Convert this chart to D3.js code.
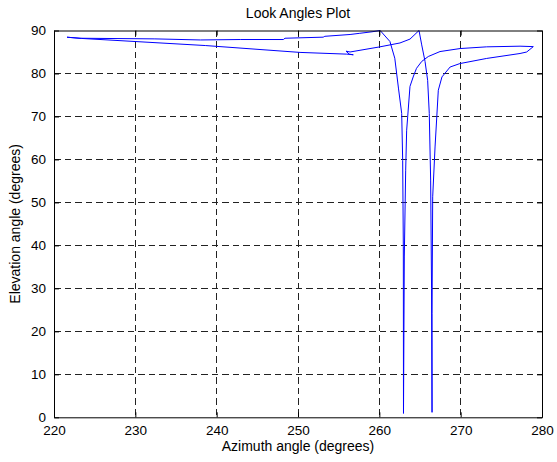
<!DOCTYPE html>
<html><head><meta charset="utf-8">
<script src="https://cdn.jsdelivr.net/npm/d3@7"></script>
<style>
body{margin:0;background:#fff}
svg{display:block}
text{font-family:"Liberation Sans",Arial,Helvetica,sans-serif;fill:#000}
</style>
</head><body>
<svg id="chart" width="557" height="462"></svg>
<script>
// Look angles track (azimuth, elevation) in degrees
const azimuth = [
  221.6, 223.2, 232.4, 238.0, 242.9, 248.2, 248.4, 253.1, 253.3, 256.4, 257.6, 259.1, 260.1,
  261.3, 261.9, 262.35, 262.75, 262.87, 262.95, 262.97,
  263.07, 263.24, 263.36, 263.77, 264.2, 264.57, 265.21, 266.02, 267.46, 269.92, 273.2, 277.3, 278.93,
  278.12, 277.3, 273.2, 269.9, 268.7, 267.7, 267.25, 266.85, 266.56, 266.48, 266.48,
  266.42, 266.31, 266.14, 265.94, 265.62, 265.21, 264.88,
  263.77, 262.54, 260.08, 256.4, 255.9, 256.3, 256.8,
  256.0, 250.25, 238.6, 223.4, 221.6
];
const elevation = [
  88.44, 88.2, 88.05, 87.8, 87.9, 87.9, 88.2, 88.45, 88.65, 89.07, 89.35, 89.7, 90.0,
  87.45, 83.55, 76.6, 70.7, 59.8, 39.7, 0.9,
  37.3, 57.5, 66.8, 77.0, 79.4, 81.2, 82.8, 83.95, 85.1, 85.8, 86.2, 86.35, 86.25,
  85.0, 84.65, 83.5, 82.3, 81.5, 79.2, 76.1, 62.9, 51.3, 24.2, 1.15,
  30.0, 55.2, 70.7, 78.4, 82.8, 86.65, 90.0,
  88.0, 87.1, 86.2, 85.0, 85.2, 84.5, 84.35,
  84.5, 84.9, 86.5, 88.15, 88.44
];
const xTicks = [220, 230, 240, 250, 260, 270, 280];
const yTicks = [0, 10, 20, 30, 40, 50, 60, 70, 80, 90];
const titleText = "Look Angles Plot";
const xLabel = "Azimuth angle (degrees)";
const yLabel = "Elevation angle (degrees)";

const svg = d3.select("#chart");
const L = 54, R = 542, T = 30.5, B = 417.3;
const x = d3.scaleLinear().domain([220, 280]).range([L, R]);
const y = d3.scaleLinear().domain([0, 90]).range([B, T]);

// grid
const g = svg.append("g");
g.selectAll("line.vg").data(xTicks.slice(1, -1)).join("line")
  .attr("x1", d => x(d)).attr("x2", d => x(d)).attr("y1", T).attr("y2", B)
  .attr("stroke", "#222").attr("stroke-width", 1).attr("stroke-dasharray", "6.5,4")
  .attr("shape-rendering", "crispEdges");
g.selectAll("line.hg").data(yTicks.slice(1, -1)).join("line")
  .attr("y1", d => y(d)).attr("y2", d => y(d)).attr("x1", L).attr("x2", R)
  .attr("stroke", "#222").attr("stroke-width", 1).attr("stroke-dasharray", "6.5,4")
  .attr("shape-rendering", "crispEdges");

// data line
const line = d3.line().x((d, i) => x(azimuth[i])).y((d, i) => y(elevation[i]));
svg.append("path").datum(azimuth).attr("d", line)
  .attr("fill", "none").attr("stroke", "#0000ff").attr("stroke-width", 1)
  .attr("stroke-linejoin", "round");

// axes with inward ticks
const tl = 5;
const axB = svg.append("g").attr("transform", `translate(0,${B})`)
  .call(d3.axisBottom(x).tickValues(xTicks).tickSizeInner(-tl).tickSizeOuter(0).tickPadding(8));
const axT = svg.append("g").attr("transform", `translate(0,${T})`)
  .call(d3.axisTop(x).tickValues(xTicks).tickSizeInner(-tl).tickSizeOuter(0).tickFormat(""));
const axL = svg.append("g").attr("transform", `translate(${L},0)`)
  .call(d3.axisLeft(y).tickValues(yTicks).tickSizeInner(-tl).tickSizeOuter(0).tickPadding(8));
const axR = svg.append("g").attr("transform", `translate(${R},0)`)
  .call(d3.axisRight(y).tickValues(yTicks).tickSizeInner(-tl).tickSizeOuter(0).tickFormat(""));
[axB, axT, axL, axR].forEach(a => {
  a.selectAll(".domain").attr("stroke", "#000").attr("stroke-width", 1);
  a.selectAll(".tick line").attr("stroke", "#000");
  a.selectAll("text").attr("font-size", 13.5).attr("font-family", "Liberation Sans, Arial, sans-serif").attr("fill", "#000");
});
axB.selectAll("text").attr("dy", "0.71em");

// title and labels
svg.append("text").attr("x", (L + R) / 2).attr("y", 18).attr("text-anchor", "middle")
  .attr("font-size", 14).text(titleText);
svg.append("text").attr("x", (L + R) / 2).attr("y", 451).attr("text-anchor", "middle")
  .attr("font-size", 14).text(xLabel);
svg.append("text").attr("transform", `translate(20,${(T + B) / 2}) rotate(-90)`)
  .attr("text-anchor", "middle").attr("font-size", 14).text(yLabel);
</script>
</body></html>
